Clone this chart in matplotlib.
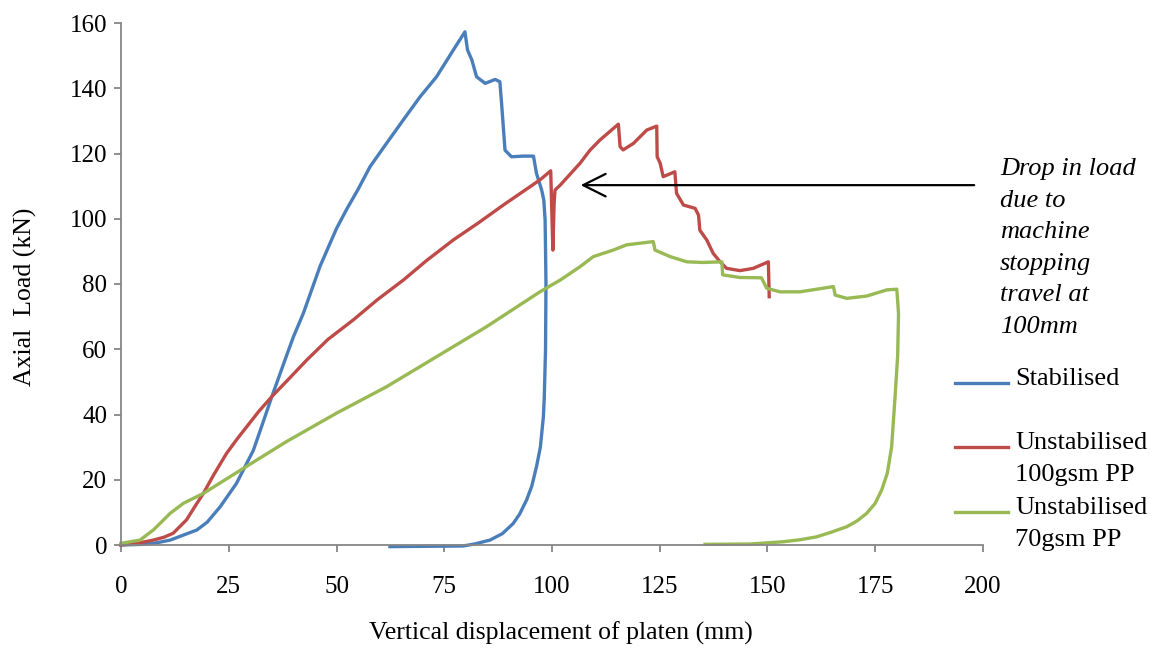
import numpy as np
import matplotlib.pyplot as plt
from matplotlib.lines import Line2D

plt.rcParams['font.family'] = ['Liberation Serif', 'DejaVu Serif']
plt.rcParams['font.size'] = 18

# Stabilised column: loading, post-peak steps, then unloading back to zero
stab_x = [0, 5, 8, 11.4, 14, 17.6, 20, 23, 26.8, 30.7, 32.8, 35, 38.4, 40, 42.3,
          46.2, 50, 52.4, 55, 57.8, 61.6, 65.5, 69.4, 73.2, 77.1, 79.8, 80.4, 81.4,
          82.5, 84.5, 86.8, 87.9, 88.3, 89.1, 90.6, 93.3, 95.7, 96.4, 97.6, 98.1,
          98.4, 98.5, 98.6, 98.5, 98.2, 98.0, 97.3, 96.4, 95.3, 94.1, 92.5, 91.0,
          88.5, 85.6, 82.0, 79.4, 62.4]
stab_y = [0, 0.2, 0.6, 1.5, 2.8, 4.6, 7, 11.7, 18.9, 29, 37, 45.5, 58, 63.8, 71,
          85.5, 97, 103, 109, 116, 123.1, 130.3, 137.4, 143.5, 151.7, 157.3, 151.7,
          148.7, 143.5, 141.5, 142.7, 142, 135.4, 121, 119, 119.2, 119.2, 113.9,
          108.8, 105.7, 99.6, 90.4, 80, 60, 45, 39.3, 30, 24, 18, 13.8, 9.5, 6.6,
          3.5, 1.5, 0.3, -0.3, -0.5]

# Unstabilised 100gsm PP
pp100_x = [0, 4, 7.5, 10, 12.1, 15.2, 17, 19.1, 21.5, 24.5, 27, 29.2, 32, 35, 39,
           43.1, 48, 53.9, 59.5, 65.5, 71, 77.1, 83, 88.7, 97.2, 99.7, 100.2, 100.5,
           100.7, 101.9, 106.5, 108.8, 111.1, 115.4, 115.8, 116.5, 118.9, 122, 124.3,
           124.4, 125.1, 125.8, 128.5, 128.9, 130.5, 133.2, 134, 134.3, 135.9, 137.4,
           139, 140.5, 143.6, 146.7, 150.2, 150.4]
pp100_y = [0, 0.6, 1.5, 2.4, 3.6, 7.7, 11.5, 15.8, 21.5, 28.1, 32.6, 36.3, 41, 45.5,
           51, 56.7, 63, 69, 75.2, 81.2, 87.3, 93.5, 98.8, 104.2, 111.9, 114.7, 90.4,
           105, 108.8, 110.3, 117, 121, 124.1, 129, 122.1, 121.1, 123.1, 127.2, 128.4,
           119, 117, 112.9, 114.4, 107.8, 104.2, 103.2, 101.1, 96.5, 93.5, 89.4, 86.8,
           84.8, 84.1, 84.8, 86.8, 76.1]

# Unstabilised 70gsm PP
pp70_x = [0, 4.4, 7.5, 9.5, 11.4, 14.5, 19.1, 28.4, 38.4, 50, 61.6, 73.2, 84.8, 97.2,
          101.9, 106.5, 109.6, 114.2, 117.3, 123.5, 123.9, 127.4, 131.3, 135.1, 139.4,
          139.6, 143.6, 148.6, 149.8, 152.9, 157.5, 165.3, 165.7, 168.4, 173, 177.7,
          180, 180.4, 180.2, 179.6, 178.8, 177.8, 176.5, 175, 173, 170.8, 168.4, 164.5,
          161.4, 157.5, 153.7, 145.9, 135.5]
pp70_y = [0.5, 1.5, 4.6, 7.2, 9.7, 12.8, 15.8, 23.5, 31.7, 40.4, 48.5, 57.7, 66.9,
          77.6, 81.2, 85.3, 88.4, 90.4, 92, 93, 90.4, 88.4, 86.8, 86.6, 86.8, 82.8,
          82, 81.9, 78.7, 77.6, 77.6, 79.2, 76.6, 75.6, 76.3, 78.2, 78.4, 71, 58,
          45.5, 30.1, 22, 16.9, 12.8, 9.7, 7.4, 5.6, 3.8, 2.5, 1.6, 1, 0.3, 0.2]

labels = ['Stabilised', 'Unstabilised\n100gsm PP', 'Unstabilised\n70gsm PP']
colors = ['#4a7ebb', '#be4b48', '#98b954']
series = [(stab_x, stab_y), (pp100_x, pp100_y), (pp70_x, pp70_y)]

W, H = 1151, 650
fig = plt.figure(figsize=(W / 100, H / 100), dpi=100)
ax = fig.add_axes([121 / W, 1 - 545 / H, (983 - 121) / W, (545 - 23) / H])

for (x, y), c in zip(series, colors):
    ax.plot(x, y, color=c, lw=2.4, solid_joinstyle='round', clip_on=False)

ax.set_xlim(0, 200)
ax.set_ylim(0, 160)
ax.set_xticks(np.arange(0, 201, 25))
ax.set_yticks(np.arange(0, 161, 20))
for s in ['top', 'right']:
    ax.spines[s].set_visible(False)
for s in ['left', 'bottom']:
    ax.spines[s].set_color('#868686')
    ax.spines[s].set_linewidth(1.3)
ax.tick_params(axis='both', direction='out', length=5, width=1.3, color='#868686')
ax.tick_params(axis='y', pad=5)
ax.tick_params(axis='x', pad=17)

fig.text(561 / W, 1 - 633 / H, 'Vertical displacement of platen (mm)',
         ha='center', va='center', fontsize=18.5)
fig.text(25 / W, 1 - 297 / H, 'Axial  Load (kN)', rotation=90,
         ha='center', va='center', fontsize=18.5)

# note about the machine stopping at 100 mm
ax.annotate('', xy=(106, 110.3), xytext=(198.6, 110.3),
            arrowprops=dict(arrowstyle='->, head_length=0.9, head_width=0.45',
                            color='black', lw=1.6))
fig.text(1000 / W, 1 - 158 / H,
         'Drop in load\ndue to\nmachine\nstopping\ntravel at\n100mm',
         ha='left', va='top', fontsize=19, style='italic', linespacing=1.56)

# legend, line beside the first row of each label
leg_y = [383, 447, 512]
for ly, lab, c in zip(leg_y, labels, colors):
    fig.add_artist(Line2D([955 / W, 1008 / W], [1 - ly / H] * 2, color=c, lw=2.4))
    fig.text(1015 / W, 1 - (ly - 15) / H, lab, ha='left', va='top',
             fontsize=19, linespacing=1.6)

fig.savefig('out.png', dpi=100)
